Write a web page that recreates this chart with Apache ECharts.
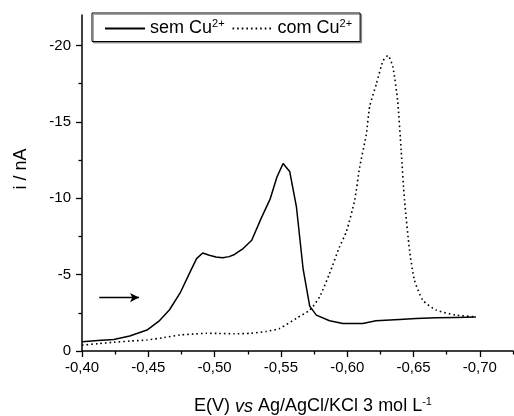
<!DOCTYPE html>
<html>
<head>
<meta charset="utf-8">
<script src="https://cdn.jsdelivr.net/npm/echarts@6/dist/echarts.min.js"></script>
<style>
  html, body { margin: 0; padding: 0; background: #fff; }
  #chart { width: 514px; height: 416px; }
</style>
</head>
<body>
<div id="chart"></div>
<script>
// Potential (V vs Ag/AgCl/KCl 3 mol/L) and current (nA) for each voltammogram
const potentialSem = [-0.400, -0.412, -0.424, -0.436, -0.449, -0.458, -0.466, -0.474, -0.481, -0.4864,
  -0.491, -0.496, -0.501, -0.506, -0.511, -0.515, -0.5215, -0.528, -0.535, -0.542,
  -0.547, -0.5516, -0.5566, -0.5617, -0.5667, -0.5717, -0.5767, -0.5867, -0.5967, -0.6117,
  -0.6217, -0.6394, -0.652, -0.667, -0.682, -0.697];
const currentSem = [-0.60, -0.68, -0.76, -0.98, -1.37, -1.95, -2.7, -3.8, -5.08, -6.05,
  -6.42, -6.27, -6.15, -6.10, -6.18, -6.32, -6.71, -7.25, -8.67, -9.98,
  -11.39, -12.27, -11.76, -9.43, -5.4, -2.94, -2.35, -1.98, -1.8, -1.8,
  -1.98, -2.07, -2.13, -2.17, -2.2, -2.22];

const potentialCom = [-0.400, -0.412, -0.424, -0.436, -0.449, -0.462, -0.474, -0.486, -0.494, -0.503,
  -0.515, -0.527, -0.539, -0.549, -0.5617, -0.5717, -0.5792, -0.5867, -0.5942, -0.5993,
  -0.6056, -0.6093, -0.6144, -0.6169, -0.622, -0.627, -0.6307, -0.6344, -0.638, -0.6407,
  -0.6432, -0.647, -0.6507, -0.657, -0.667, -0.682, -0.697];
const currentCom = [-0.38, -0.48, -0.57, -0.65, -0.72, -0.88, -1.05, -1.12, -1.16, -1.15,
  -1.13, -1.16, -1.28, -1.48, -2.14, -2.68, -3.55, -5.08, -6.82, -7.8,
  -9.87, -12.0, -14.2, -16.0, -17.5, -19.0, -19.35, -18.6, -16.4, -13.1,
  -9.87, -6.6, -4.64, -3.33, -2.68, -2.35, -2.24];

const seriesNames = ['sem Cu2+', 'com Cu2+'];

// Axis ticks
const xMajorTicks = [-0.40, -0.45, -0.50, -0.55, -0.60, -0.65, -0.70];
const xMinorTicks = [-0.425, -0.475, -0.525, -0.575, -0.625, -0.675, -0.725];
const yMajorTicks = [0, -5, -10, -15, -20];
const yMinorTicks = [-2.5, -7.5, -12.5, -17.5];

// Scan direction arrow (start, end)
const arrowFrom = [-0.413, -3.5];
const arrowTo = [-0.443, -3.5];

const xRange = [-0.725, -0.40];
const yRange = [-22, 0];

const FONT = '"Liberation Sans", Arial, sans-serif';
const AXIS_COLOR = '#000';

function pairs(xs, ys) { return xs.map((x, i) => [x, ys[i]]); }
const fmtX = v => v.toFixed(2).replace('.', ',');

const chart = echarts.init(document.getElementById('chart'), null, { renderer: 'canvas' });

function xAxisDef(ticks, len, withLabels, visibleLine) {
  return {
    type: 'value', inverse: true, min: xRange[0], max: xRange[1], position: 'bottom', offset: 0,
    axisLine: { show: visibleLine, onZero: false, lineStyle: { color: AXIS_COLOR, width: 1.5 } },
    axisTick: { show: true, customValues: ticks, length: len, lineStyle: { color: AXIS_COLOR, width: 1.3 } },
    axisLabel: withLabels ? { show: true, customValues: ticks, formatter: fmtX, color: '#000',
      fontFamily: FONT, fontSize: 15, margin: 9 } : { show: false },
    splitLine: { show: false }
  };
}
function yAxisDef(ticks, len, withLabels, visibleLine) {
  return {
    type: 'value', inverse: true, min: yRange[0], max: yRange[1], position: 'left', offset: 0,
    axisLine: { show: visibleLine, onZero: false, lineStyle: { color: AXIS_COLOR, width: 1.5 } },
    axisTick: { show: true, customValues: ticks, length: len, lineStyle: { color: AXIS_COLOR, width: 1.3 } },
    axisLabel: withLabels ? { show: true, customValues: ticks, color: '#000',
      fontFamily: FONT, fontSize: 15, margin: 11 } : { show: false },
    splitLine: { show: false }
  };
}

const xMain = xAxisDef(xMajorTicks, 6, true, true);
xMain.name = 'E(V) {it|vs} Ag/AgCl/KCl 3 mol L{sup|-1}';
xMain.nameLocation = 'middle';
xMain.nameGap = 45;
xMain.nameTextStyle = {
  color: '#000', fontFamily: FONT, fontSize: 18, padding: [0, 0, 0, 31],
  rich: {
    it: { fontStyle: 'italic', fontFamily: FONT, fontSize: 18, color: '#000' },
    sup: { fontFamily: FONT, fontSize: 11, color: '#000', padding: [0, 0, 10, 0] }
  }
};

const yMain = yAxisDef(yMajorTicks, 6, true, true);
yMain.name = 'i / nA';
yMain.nameLocation = 'middle';
yMain.nameGap = 52;
yMain.nameTextStyle = { color: '#000', fontFamily: FONT, fontSize: 18, padding: [0, 0, 0, 28] };

chart.setOption({
  animation: false,
  backgroundColor: '#fff',
  grid: { left: 82, right: 1, top: 15, bottom: 65, containLabel: false, outerBoundsMode: 'none' },
  xAxis: [xMain, xAxisDef(xMinorTicks, 3.5, false, false)],
  yAxis: [yMain, yAxisDef(yMinorTicks, 3.5, false, false)],
  legend: {
    left: 92, top: 13,
    data: seriesNames,
    itemWidth: 40, itemHeight: 14, itemGap: 7,
    padding: [5, 8, 4, 12],
    borderColor: '#000', borderWidth: 1,
    backgroundColor: '#fff',
    shadowColor: 'rgba(0,0,0,0.35)', shadowBlur: 0, shadowOffsetX: 1.5, shadowOffsetY: 1.5,
    itemStyle: { opacity: 0 },
    formatter: name => name.replace('2+', '{sup|2+}'),
    textStyle: {
      color: '#000', fontFamily: FONT, fontSize: 18,
      rich: { sup: { fontFamily: FONT, fontSize: 11, color: '#000', padding: [0, 0, 10, 0] } }
    }
  },
  series: [
    {
      name: seriesNames[0], type: 'line', xAxisIndex: 0, yAxisIndex: 0,
      data: pairs(potentialSem, currentSem),
      showSymbol: false, symbol: 'none', smooth: false,
      lineStyle: { color: '#000', width: 1.5, type: 'solid' },
      itemStyle: { color: '#000' },
      markLine: {
        silent: true, symbol: ['none', 'arrow'], symbolSize: [7, 9],
        label: { show: false },
        lineStyle: { color: '#000', width: 1.3, type: 'solid' },
        data: [[{ coord: arrowFrom }, { coord: arrowTo }]]
      }
    },
    {
      name: seriesNames[1], type: 'line', xAxisIndex: 0, yAxisIndex: 0,
      data: pairs(potentialCom, currentCom),
      showSymbol: false, symbol: 'none', smooth: 0.2,
      lineStyle: { color: '#000', width: 1.6, type: [1.6, 3] },
      itemStyle: { color: '#000' }
    }
  ]
});
</script>
</body>
</html>
